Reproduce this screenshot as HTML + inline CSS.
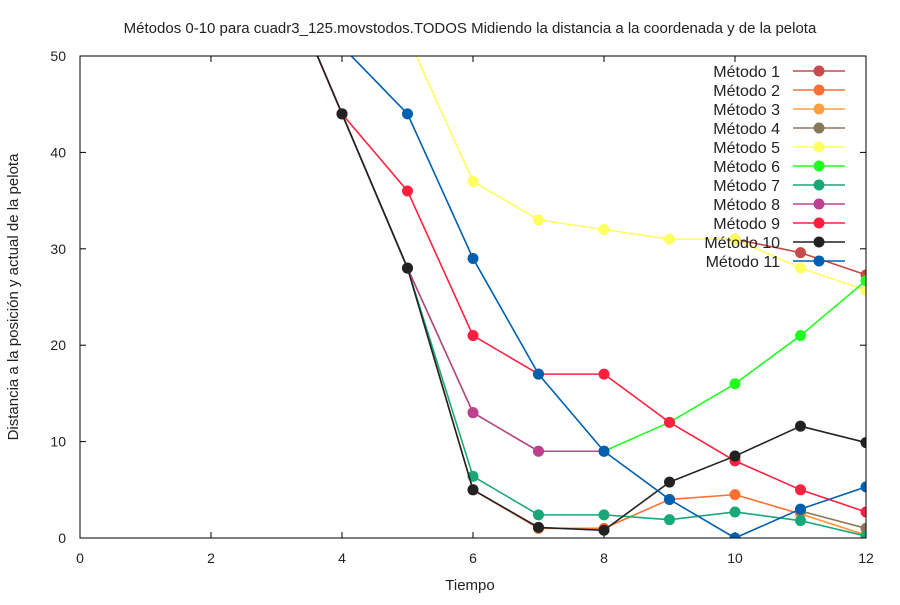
<!DOCTYPE html>
<html><head><meta charset="utf-8"><style>
body{margin:0;background:#fff}
text{font-family:"Liberation Sans","DejaVu Sans",sans-serif;fill:#222}
</style></head><body>
<svg width="900" height="600">
<defs><clipPath id="plot"><rect x="80" y="56" width="786" height="482"/></clipPath></defs>
<rect width="900" height="600" fill="#fff"/>
<text x="470" y="33" font-size="15" text-anchor="middle">Métodos 0-10 para cuadr3_125.movstodos.TODOS Midiendo la distancia a la coordenada y de la pelota</text>
<g id="axes"></g>
<g id="series" clip-path="url(#plot)"></g>
<rect x="80" y="56" width="786" height="482" fill="none" stroke="#000"/>
<g id="legend"></g>
<text x="470" y="590" font-size="15" text-anchor="middle">Tiempo</text>
<text transform="translate(18,297) rotate(-90)" font-size="15" text-anchor="middle">Distancia a la posición y actual de la pelota</text>
</svg>
<script>
const times=[3,4,5,6,7,8,9,10,11,12];
const xTicks=[0,2,4,6,8,10,12];
const yTicks=[0,10,20,30,40,50];
const names=["Método 1","Método 2","Método 3","Método 4","Método 5","Método 6","Método 7","Método 8","Método 9","Método 10","Método 11"];
const colors=["#c8494a","#ff7030","#ffa040","#8a7858","#ffff60","#20ff20","#18a878","#c04090","#ff2040","#222222","#0060b0"];
const m1=[null,null,null,null,null,null,null,31,29.6,27.3];
const m2=[60,44,28,5,1,1,4,4.5,2.5,0.3];
const m3=[null,null,null,null,null,null,null,null,2.5,0.3];
const m4=[null,null,null,null,null,null,null,null,2.8,1];
const m5=[70,60,52,37,33,32,31,31,28,25.7];
const m6=[60,44,28,13,9,9,12,16,21,26.7];
const m7=[60,44,28,6.4,2.4,2.4,1.9,2.7,1.8,0.2];
const m8=[60,44,28,13,9,9,null,null,null,null];
const m9=[60,44,36,21,17,17,12,8,5,2.7];
const m10=[60,44,28,5,1.1,0.8,5.8,8.5,11.6,9.9];
const m11=[62,51,44,29,17,9,4,0,3,5.3];
const allSeries=[m1,m2,m3,m4,m5,m6,m7,m8,m9,m10,m11];
const X=v=>80+v*(786/12), Y=v=>538-v*(482/50);
const NS="http://www.w3.org/2000/svg";
function mk(t,a,p){const e=document.createElementNS(NS,t);for(const k in a)e.setAttribute(k,a[k]);p.appendChild(e);return e;}
const ax=document.getElementById('axes');
xTicks.forEach(v=>{
 const l=mk('line',{x1:X(v),x2:X(v),y1:538,y2:532,stroke:'#000'},ax);
 
 
 const l2=mk('line',{x1:X(v),x2:X(v),y1:56,y2:62,stroke:'#000'},ax);
 
 
 const t=mk('text',{x:X(v),y:563,'font-size':14,'text-anchor':'middle'},ax);t.textContent=v;
 
 
});
yTicks.forEach(v=>{
 const l=mk('line',{x1:80,x2:86,y1:Y(v),y2:Y(v),stroke:'#000'},ax);
 
 
 const l2=mk('line',{x1:866,x2:860,y1:Y(v),y2:Y(v),stroke:'#000'},ax);
 
 
 const t=mk('text',{x:66,y:Y(v)+5,'font-size':14,'text-anchor':'end'},ax);t.textContent=v;
 
 
});
const sg=document.getElementById('series');
allSeries.forEach((s,i)=>{
 const g=mk('g',{},sg);
 
 
 for(let j=0;j<s.length-1;j++){
  if(s[j]==null||s[j+1]==null)continue;
  const ln=mk('line',{x1:X(times[j]),y1:Y(s[j]),x2:X(times[j+1]),y2:Y(s[j+1]),stroke:colors[i],'stroke-width':1.6},g);
  
  
 }
 s.forEach((v,j)=>{if(v==null)return;const c=mk('circle',{cx:X(times[j]),cy:Y(v),r:5.5,fill:colors[i]},g);
  
  });
});
const lg=document.getElementById('legend');
names.forEach((n,i)=>{
 const y=71+i*19;
 const g=mk('g',{},lg);
 
 
 const t=mk('text',{x:780,y:y+6,'font-size':16,'text-anchor':'end'},g);t.textContent=n;
 mk('line',{x1:793,x2:845,y1:y,y2:y,stroke:colors[i],'stroke-width':1.6},g);
 mk('circle',{cx:819,cy:y,r:5.5,fill:colors[i]},g);
});
</script>
</body></html>
